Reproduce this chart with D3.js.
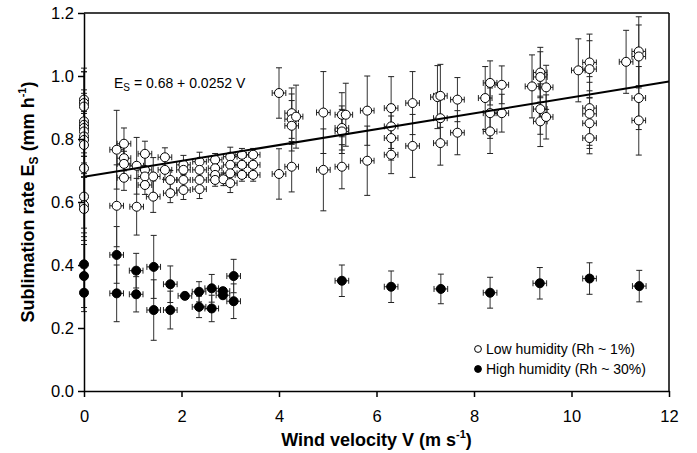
<!DOCTYPE html>
<html lang="en">
<head>
  <meta charset="UTF-8">
  <title>Sublimation rate vs wind velocity</title>
  <style>
    body { margin: 0; background: #fff; }
    svg { font-family: "Liberation Sans", Arial, sans-serif; }
    .axis path, .axis line { stroke: #000; stroke-width: 1.5; }
    .axis text { font-size: 16.5px; fill: #000; }
  </style>
</head>
<body>
<div class="chart"></div>
<script src="https://cdn.jsdelivr.net/npm/d3@7"></script>
<script>
  // Low humidity (Rh ~ 1%)
  const lowV = [
    0, 0, 0, 0, 0, 0, 0, 0, 0, 0, 0, 0, 0, 0,
    0.67, 0.67, 0.82, 0.82, 0.82, 0.82, 1.08, 1.08, 1.25, 1.25, 1.25, 1.25,
    1.42, 1.42, 1.66, 1.66, 1.77, 1.77, 2.04, 2.04, 2.04, 2.04, 2.37, 2.37, 2.37, 2.37,
    2.69, 2.69, 2.69, 2.69, 2.86, 3.0, 3.0, 3.0, 3.0, 3.24, 3.24, 3.24, 3.47, 3.47, 3.47,
    4.0, 4.0, 4.26, 4.26, 4.26, 4.26, 4.35, 4.91, 4.91, 5.29, 5.29, 5.29, 5.29, 5.37,
    5.81, 5.81, 6.3, 6.3, 6.3, 6.3, 6.74, 6.74, 7.25, 7.31, 7.31, 7.31, 7.66, 7.66,
    8.23, 8.33, 8.33, 8.33, 8.57, 8.57, 9.19, 9.36, 9.36, 9.36, 9.36, 9.48, 9.48,
    10.14, 10.37, 10.37, 10.37, 10.37, 10.37, 10.37, 11.12, 11.38, 11.38, 11.38, 11.38
  ];
  const lowE = [
    0.925, 0.914, 0.903, 0.856, 0.845, 0.835, 0.824, 0.808, 0.797, 0.781, 0.707, 0.617, 0.59, 0.578,
    0.766, 0.588, 0.785, 0.739, 0.721, 0.677, 0.715, 0.585, 0.753, 0.702, 0.681, 0.654,
    0.681, 0.617, 0.742, 0.702, 0.67, 0.628, 0.718, 0.702, 0.67, 0.638, 0.728, 0.702, 0.67, 0.641,
    0.734, 0.707, 0.686, 0.67, 0.672, 0.744, 0.718, 0.691, 0.66, 0.75, 0.718, 0.686, 0.75, 0.718, 0.686,
    0.946, 0.689, 0.882, 0.863, 0.842, 0.712, 0.871, 0.884, 0.702, 0.877, 0.835, 0.824, 0.712, 0.877,
    0.89, 0.731, 0.898, 0.84, 0.803, 0.75, 0.914, 0.778, 0.933, 0.937, 0.866, 0.787, 0.925, 0.82,
    0.93, 0.978, 0.882, 0.824, 0.972, 0.882, 0.967, 1.011, 0.997, 0.895, 0.856, 0.964, 0.87,
    1.018, 1.043, 1.022, 0.898, 0.88, 0.85, 0.803, 1.045, 1.078, 1.062, 0.93, 0.859
  ];
  const lowErrE = [
    0.1, 0.1, 0.11, 0.1, 0.1, 0.09, 0.1, 0.1, 0.09, 0.1, 0.1, 0.1, 0.1, 0.1,
    0.125, 0.13, 0.05, 0.04, 0.04, 0.04, 0.09, 0.09, 0.04, 0.04, 0.03, 0.03,
    0.06, 0.05, 0.03, 0.03, 0.03, 0.03, 0.03, 0.02, 0.02, 0.03, 0.03, 0.02, 0.02, 0.03,
    0.02, 0.02, 0.02, 0.02, 0.02, 0.03, 0.02, 0.02, 0.03, 0.02, 0.02, 0.02, 0.02, 0.02, 0.02,
    0.08, 0.08, 0.08, 0.08, 0.08, 0.08, 0.1, 0.13, 0.13, 0.07, 0.07, 0.07, 0.07, 0.1,
    0.11, 0.11, 0.1, 0.07, 0.07, 0.06, 0.1, 0.1, 0.1, 0.1, 0.08, 0.07, 0.07, 0.07,
    0.1, 0.07, 0.08, 0.07, 0.06, 0.06, 0.1, 0.08, 0.08, 0.08, 0.08, 0.07, 0.07,
    0.1, 0.09, 0.09, 0.1, 0.1, 0.08, 0.05, 0.1, 0.11, 0.1, 0.1, 0.11
  ];
  const lowErrV = [
    0, 0, 0, 0, 0, 0, 0, 0, 0, 0, 0, 0, 0, 0,
    0.14, 0.14, 0.14, 0.14, 0.14, 0.14, 0.14, 0.14, 0.14, 0.14, 0.14, 0.14,
    0.14, 0.14, 0.14, 0.14, 0.14, 0.14, 0.14, 0.14, 0.14, 0.14, 0.14, 0.14, 0.14, 0.14,
    0.14, 0.14, 0.14, 0.14, 0.14, 0.14, 0.14, 0.14, 0.14, 0.14, 0.14, 0.14, 0.14, 0.14, 0.14,
    0.14, 0.14, 0.14, 0.14, 0.14, 0.14, 0.14, 0.14, 0.14, 0.14, 0.14, 0.14, 0.14, 0.14,
    0.14, 0.14, 0.14, 0.14, 0.14, 0.14, 0.14, 0.14, 0.14, 0.14, 0.14, 0.14, 0.14, 0.14,
    0.14, 0.14, 0.14, 0.14, 0.14, 0.14, 0.14, 0.14, 0.14, 0.14, 0.14, 0.14, 0.14,
    0.14, 0.14, 0.14, 0.14, 0.14, 0.14, 0.14, 0.14, 0.14, 0.14, 0.14, 0.14
  ];

  // High humidity (Rh ~ 30%)
  const highV = [0, 0, 0, 0.67, 0.67, 1.07, 1.07, 1.43, 1.43, 1.77, 1.77, 2.07, 2.36, 2.36,
    2.62, 2.62, 2.85, 2.85, 3.07, 3.07, 5.29, 6.3, 7.32, 8.33, 9.35, 10.37, 11.39];
  const highE = [0.402, 0.365, 0.312, 0.432, 0.31, 0.382, 0.307, 0.394, 0.257, 0.339, 0.257, 0.302, 0.315, 0.267,
    0.326, 0.262, 0.317, 0.304, 0.365, 0.285, 0.35, 0.331, 0.324, 0.312, 0.342, 0.357, 0.333];
  const highErrE = [0.1, 0.1, 0.06, 0.09, 0.09, 0.055, 0.056, 0.1, 0.096, 0.058, 0.06, 0.01, 0.032, 0.034,
    0.044, 0.042, 0.01, 0.01, 0.053, 0.055, 0.05, 0.05, 0.047, 0.049, 0.05, 0.05, 0.05];
  const highErrV = [0, 0, 0, 0.14, 0.14, 0.14, 0.14, 0.14, 0.14, 0.14, 0.14, 0.14, 0.14, 0.14,
    0.14, 0.14, 0.14, 0.14, 0.14, 0.14, 0.14, 0.14, 0.14, 0.14, 0.14, 0.14, 0.14];

  // Fit line E_S = 0.68 + 0.0252 V
  const fitIntercept = 0.68, fitSlope = 0.0252;
  const xTicks = [0, 2, 4, 6, 8, 10, 12];
  const yTicks = [0, 0.2, 0.4, 0.6, 0.8, 1.0, 1.2];
  const legendLabels = ["Low humidity (Rh ~ 1%)", "High humidity (Rh ~ 30%)"];

  const width = 697, height = 453;
  const margin = {left: 84, right: 28, top: 13, bottom: 62};

  const svg = d3.select(".chart").append("svg")
    .attr("width", width)
    .attr("height", height);

  const x = d3.scaleLinear().domain([0, 12]).range([margin.left, width - margin.right]);
  const y = d3.scaleLinear().domain([0, 1.2]).range([height - margin.bottom, margin.top]);

  /**
   * Frame
   */
  svg.append("line")
    .attr("x1", x(0)).attr("x2", x(12)).attr("y1", y(1.2)).attr("y2", y(1.2))
    .attr("stroke", "#000").attr("stroke-width", 1.5);
  svg.append("line")
    .attr("x1", x(12)).attr("x2", x(12)).attr("y1", y(0)).attr("y2", y(1.2))
    .attr("stroke", "#000").attr("stroke-width", 1.5);

  /**
   * Error bars + points
   */
  function drawSeries(vs, es, errE, errV, fill) {
    const pts = vs.map((v, i) => ({v: v, e: es[i], de: errE[i], dv: errV[i]}));
    const g = svg.append("g");
    const cap = 3;

    // vertical bars
    g.selectAll(".vbar").data(pts).enter().append("line")
      .attr("x1", d => x(d.v)).attr("x2", d => x(d.v))
      .attr("y1", d => y(d.e - d.de)).attr("y2", d => y(d.e + d.de))
      .attr("stroke", "#333").attr("stroke-width", 1);
    g.selectAll(".vcap1").data(pts).enter().append("line")
      .attr("x1", d => x(d.v) - cap).attr("x2", d => x(d.v) + cap)
      .attr("y1", d => y(d.e + d.de)).attr("y2", d => y(d.e + d.de))
      .attr("stroke", "#222").attr("stroke-width", 1);
    g.selectAll(".vcap2").data(pts).enter().append("line")
      .attr("x1", d => x(d.v) - cap).attr("x2", d => x(d.v) + cap)
      .attr("y1", d => y(d.e - d.de)).attr("y2", d => y(d.e - d.de))
      .attr("stroke", "#222").attr("stroke-width", 1);

    // horizontal bars
    const hp = pts.filter(d => d.dv > 0);
    g.selectAll(".hbar").data(hp).enter().append("line")
      .attr("x1", d => x(d.v - d.dv)).attr("x2", d => x(d.v + d.dv))
      .attr("y1", d => y(d.e)).attr("y2", d => y(d.e))
      .attr("stroke", "#222").attr("stroke-width", 1);
    g.selectAll(".hcap1").data(hp).enter().append("line")
      .attr("x1", d => x(d.v - d.dv)).attr("x2", d => x(d.v - d.dv))
      .attr("y1", d => y(d.e) - cap).attr("y2", d => y(d.e) + cap)
      .attr("stroke", "#222").attr("stroke-width", 1);
    g.selectAll(".hcap2").data(hp).enter().append("line")
      .attr("x1", d => x(d.v + d.dv)).attr("x2", d => x(d.v + d.dv))
      .attr("y1", d => y(d.e) - cap).attr("y2", d => y(d.e) + cap)
      .attr("stroke", "#222").attr("stroke-width", 1);

    g.selectAll("circle").data(pts).enter().append("circle")
      .attr("cx", d => x(d.v)).attr("cy", d => y(d.e))
      .attr("r", 4.5)
      .attr("fill", fill)
      .attr("stroke", "#000").attr("stroke-width", 1);
  }

  drawSeries(highV, highE, highErrE, highErrV, "#000");
  drawSeries(lowV, lowE, lowErrE, lowErrV, "#fff");

  // regression line
  svg.append("line")
    .attr("x1", x(0)).attr("y1", y(fitIntercept))
    .attr("x2", x(12)).attr("y2", y(fitIntercept + fitSlope * 12))
    .attr("stroke", "#000").attr("stroke-width", 2);

  const eq = svg.append("text")
    .attr("x", 114).attr("y", 88)
    .attr("font-size", 14);
  eq.append("tspan").text("E");
  eq.append("tspan").text("S").attr("font-size", 10).attr("dy", 3);
  eq.append("tspan").text(" = 0.68 + 0.0252 V").attr("dy", -3);

  /**
   * Axes
   */
  svg.append("g")
    .attr("class", "axis")
    .attr("transform", `translate(0, ${y(0)})`)
    .call(d3.axisBottom(x).tickValues(xTicks).tickSize(6).tickSizeOuter(0).tickPadding(13).tickFormat(d3.format("d")));

  svg.append("g")
    .attr("class", "axis")
    .attr("transform", `translate(${x(0)}, 0)`)
    .call(d3.axisLeft(y).tickValues(yTicks).tickSize(6).tickSizeOuter(0).tickPadding(4).tickFormat(d3.format(".1f")));

  const xt = svg.append("text")
    .attr("x", (x(0) + x(12)) / 2).attr("y", 446)
    .attr("text-anchor", "middle")
    .attr("font-size", 18).attr("font-weight", "bold");
  xt.append("tspan").text("Wind velocity V (m s");
  xt.append("tspan").text("-1").attr("font-size", 11).attr("dy", -8);
  xt.append("tspan").text(")").attr("dy", 8);

  const yt = svg.append("text")
    .attr("transform", `translate(34, ${(y(0) + y(1.2)) / 2}) rotate(-90)`)
    .attr("text-anchor", "middle")
    .attr("font-size", 18).attr("font-weight", "bold");
  yt.append("tspan").text("Sublimation rate E");
  yt.append("tspan").text("S").attr("font-size", 12).attr("dy", 4);
  yt.append("tspan").text(" (mm h").attr("dy", -4);
  yt.append("tspan").text("-1").attr("font-size", 11).attr("dy", -8);
  yt.append("tspan").text(")").attr("dy", 8);

  /**
   * Legend
   */
  const legend = svg.append("g").attr("transform", "translate(478, 349)");
  legendLabels.forEach((label, i) => {
    legend.append("circle")
      .attr("cx", 0).attr("cy", i * 20)
      .attr("r", 3.4)
      .attr("fill", i === 0 ? "#fff" : "#000")
      .attr("stroke", "#000").attr("stroke-width", 1);
    legend.append("text")
      .attr("x", 8).attr("y", i * 20 + 5)
      .attr("font-size", 14)
      .text(label);
  });
</script>
</body>
</html>
